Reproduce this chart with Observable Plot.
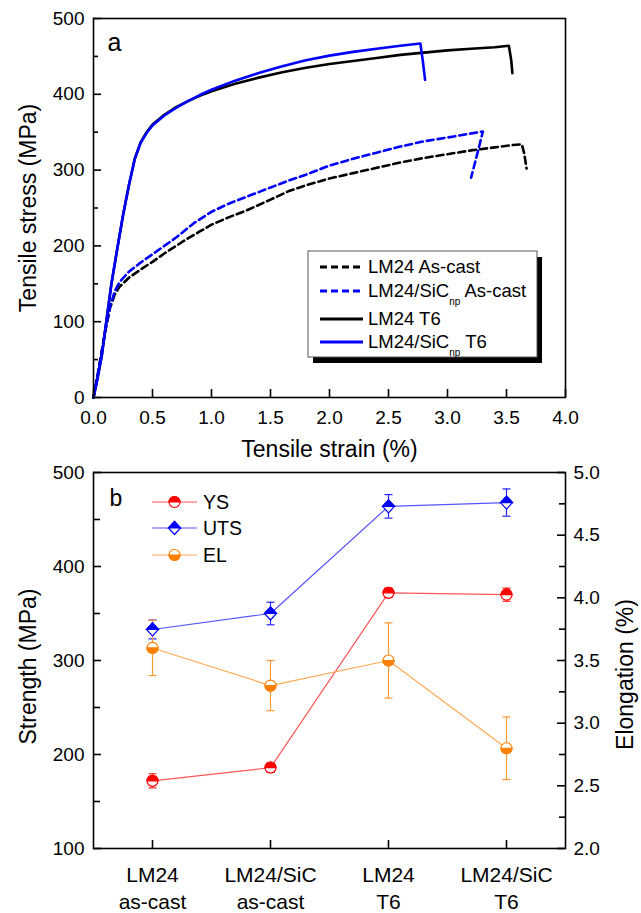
<!DOCTYPE html>
<html><head><meta charset="utf-8">
<script src="https://cdn.jsdelivr.net/npm/d3@7"></script>
<script src="https://cdn.jsdelivr.net/npm/@observablehq/plot@0.6"></script>
<style>
body{margin:0;background:#fff;}
#wrap{position:relative;width:641px;height:913px;}
#wrap svg{position:absolute;left:0;overflow:visible;}
</style></head><body><div id="wrap"></div>
<script>
// ---------- Panel a data: [strain %, stress MPa] ----------
const lm24AsCast = [[0,0],[0.03,25],[0.06,52],[0.1,88],[0.14,118],[0.18,136],[0.22,146],[0.3,158],[0.4,169],[0.5,179],[0.6,190],[0.7,200],[0.8,210],[0.9,219],[1.0,228],[1.15,238],[1.3,247],[1.5,261],[1.65,272],[1.8,280],[2.0,289],[2.2,296],[2.4,303],[2.6,310],[2.8,316],[3.0,321],[3.2,326],[3.4,330],[3.55,333],[3.63,334],[3.65,322],[3.67,302]];
const sicAsCast = [[0,0],[0.03,25],[0.06,52],[0.1,88],[0.14,120],[0.18,140],[0.22,152],[0.3,166],[0.4,178],[0.5,189],[0.6,200],[0.7,211],[0.85,230],[1.0,245],[1.15,256],[1.3,265],[1.5,277],[1.65,286],[1.8,294],[2.0,306],[2.2,315],[2.4,323],[2.6,331],[2.8,338],[3.0,343],[3.15,347],[3.3,351],[3.25,320],[3.2,290]];
const lm24T6 = [[0,0],[0.03,22],[0.07,55],[0.1,90],[0.15,148],[0.2,195],[0.25,240],[0.3,280],[0.35,315],[0.4,337],[0.45,350],[0.5,360],[0.6,373],[0.7,383],[0.8,391],[0.9,398],[1.0,404],[1.2,414],[1.4,422],[1.6,429],[1.8,435],[2.0,440],[2.2,444],[2.4,448],[2.6,452],[2.8,455],[3.0,458],[3.2,460],[3.4,462],[3.52,464],[3.54,445],[3.55,428]];
const sicT6 = [[0,0],[0.03,22],[0.07,55],[0.1,90],[0.15,148],[0.2,195],[0.25,240],[0.3,280],[0.35,315],[0.4,336],[0.45,349],[0.5,359],[0.6,372],[0.7,382],[0.8,391],[0.9,399],[1.0,406],[1.2,418],[1.4,428],[1.6,437],[1.8,445],[2.0,451],[2.2,456],[2.4,460],[2.6,464],[2.77,467],[2.79,445],[2.81,419]];
const xTicksA = [0,0.5,1,1.5,2,2.5,3,3.5,4];
const yTicksA = [0,100,200,300,400,500];
const yMinorA = [50,150,250,350,450];

// ---------- Panel b data ----------
const cats = ["LM24 as-cast","LM24/SiC as-cast","LM24 T6","LM24/SiC T6"];
const catLabels = ["LM24\nas-cast","LM24/SiC\nas-cast","LM24\nT6","LM24/SiC\nT6"];
const ysMean = [172,186,372,370];
const ysErr = [7.5,5,5,7];
const utsMean = [333,350,464,468];
const utsErr = [10,12,12.5,14.5];
const elMean = [3.6,3.3,3.5,2.8];
const elErr = [0.22,0.2,0.3,0.25];
const yTicksB = [100,200,300,400,500];
const yMinorB = [150,250,350,450];
const elTicks = [2.0,2.5,3.0,3.5,4.0,4.5,5.0];
const elMinor = [2.25,2.75,3.25,3.75,4.25,4.75];

const FONT = '"Liberation Sans", Arial, Helvetica, sans-serif';
const wrap = document.getElementById("wrap");

// ================= Panel a =================
const HA = 462, MTA = 18, MBA = 65, MLA = 93, MRA = 76;
const hA = HA - MTA - MBA, wA = 641 - MLA - MRA;
const toRows = (arr) => arr.map(([strain, stress]) => ({strain, stress}));
const seriesA = [
  {name:"LM24 As-cast", data: lm24AsCast, color:"#000", dash:"7,4", sub:null, rest:null},
  {name:"LM24/SiC", data: sicAsCast, color:"#0000ff", dash:"7,4", sub:"np", rest:" As-cast"},
  {name:"LM24 T6", data: lm24T6, color:"#000", dash:null, sub:null, rest:null},
  {name:"LM24/SiC", data: sicT6, color:"#0000ff", dash:null, sub:"np", rest:" T6"}
];
const pa = Plot.plot({
  width: 641, height: HA,
  marginLeft: MLA, marginRight: MRA, marginTop: MTA, marginBottom: MBA,
  style: {fontFamily: FONT, fontSize: "19px", color: "#000", background: "transparent"},
  x: {domain: [0, 4]},
  y: {domain: [0, 500]},
  marks: [
    ...seriesA.map(s => Plot.line(toRows(s.data), {x: "strain", y: "stress", stroke: s.color, strokeWidth: 2.6, strokeDasharray: s.dash, strokeLinejoin: "round"})),
    Plot.frame({stroke: "#000", strokeWidth: 1.6}),
    Plot.tickX(xTicksA, {x: d => d, insetTop: hA - 8, strokeWidth: 1.6}),
    Plot.tickY(yTicksA, {y: d => d, insetRight: wA - 8, strokeWidth: 1.6}),
    Plot.tickY(yMinorA, {y: d => d, insetRight: wA - 5, strokeWidth: 1.6}),
    Plot.axisX({ticks: xTicksA, tickSize: 0, tickPadding: 13, tickFormat: d => d.toFixed(1), label: null, fontSize: 19}),
    Plot.axisY({ticks: yTicksA, tickSize: 0, tickPadding: 9, label: null, fontSize: 19}),
    Plot.text(["Tensile strain (%)"], {frameAnchor: "bottom", lineAnchor: "middle", dy: 52, fontSize: 23}),
    Plot.text(["Tensile stress (MPa)"], {frameAnchor: "left", lineAnchor: "middle", textAnchor: "middle", rotate: -90, dx: -65, fontSize: 23}),
    Plot.text(["a"], {frameAnchor: "top-left", textAnchor: "start", lineAnchor: "top", dx: 14, dy: 15, fontSize: 25})
  ]
});
pa.style.top = "0px";
wrap.appendChild(pa);

// legend a
{
  const g = d3.select(pa).append("g").attr("font-family", FONT).attr("text-anchor", "start");
  g.append("rect").attr("x", 313).attr("y", 257).attr("width", 229).attr("height", 106).attr("fill", "#000");
  g.append("rect").attr("x", 308).attr("y", 251).attr("width", 229).attr("height", 106).attr("fill", "#fff").attr("stroke", "#555").attr("stroke-width", 1);
  const rowsY = [267, 291, 319, 342];
  seriesA.forEach((s, i) => {
    const y = rowsY[i];
    g.append("line").attr("x1", 320).attr("x2", 363).attr("y1", y).attr("y2", y)
      .attr("stroke", s.color).attr("stroke-width", 2.8).attr("stroke-dasharray", s.dash);
    const t = g.append("text").attr("x", 368).attr("y", y).attr("dy", "0.35em").attr("font-size", 18.5).attr("fill", "#000").attr("text-anchor", "start");
    t.append("tspan").text(s.name);
    if (s.sub) {
      t.append("tspan").attr("dy", 8).attr("font-size", 10).text(s.sub);
      t.append("tspan").attr("dy", -8).attr("font-size", 18.5).text(s.rest);
    }
  });
}

// ================= Panel b =================
const HB = 451, MTB = 10, MBB = 65, MLB = 93, MRB = 76;
const hB = HB - MTB - MBB, wB = 641 - MLB - MRB;
const elToY = e => 100 + (e - 2) * 400 / 3;
const yToEl = v => 2 + (v - 100) * 3 / 400;

const R = 5.5, D = 6.5;
const circleFull = {draw(c){ c.moveTo(R,0); c.arc(0,0,R,0,2*Math.PI); c.closePath(); }};
const circleTop = {draw(c){ c.moveTo(-R,0); c.arc(0,0,R,Math.PI,0); c.closePath(); }};
const circleBottom = {draw(c){ c.moveTo(R,0); c.arc(0,0,R,0,Math.PI); c.closePath(); }};
const diamondFull = {draw(c){ c.moveTo(-D+0.5,0); c.lineTo(0,-D); c.lineTo(D-0.5,0); c.lineTo(0,D); c.closePath(); }};
const diamondTop = {draw(c){ c.moveTo(-D+0.5,0); c.lineTo(0,-D); c.lineTo(D-0.5,0); c.closePath(); }};
const capSym = {draw(c){ c.moveTo(-4,0); c.lineTo(4,0); }};

const seriesB = [
  {name:"YS", mean: ysMean, err: ysErr, toY: v => v, color:"#ff0000", line:"#ff5555", errc:"#ff2222", full: circleFull, half: circleTop},
  {name:"UTS", mean: utsMean, err: utsErr, toY: v => v, color:"#0000ff", line:"#5555ff", errc:"#2222ff", full: diamondFull, half: diamondTop},
  {name:"EL", mean: elMean, err: elErr, toY: elToY, color:"#ff8000", line:"#ffaa55", errc:"#ff9933", full: circleFull, half: circleBottom}
];
const rowsB = s => cats.map((c, i) => ({cat: c, y: s.toY(s.mean[i]), lo: s.toY(s.mean[i] - s.err[i]), hi: s.toY(s.mean[i] + s.err[i])}));

const errMarks = seriesB.flatMap(s => {
  const d = rowsB(s);
  return [
    Plot.ruleX(d, {x: "cat", y1: "lo", y2: "hi", stroke: s.errc, strokeWidth: 1.2}),
    Plot.dot(d, {x: "cat", y: "lo", symbol: capSym, r: 4, stroke: s.errc, fill: "none", strokeWidth: 1.2}),
    Plot.dot(d, {x: "cat", y: "hi", symbol: capSym, r: 4, stroke: s.errc, fill: "none", strokeWidth: 1.2})
  ];
});
const lineMarks = seriesB.map(s => Plot.line(rowsB(s), {x: "cat", y: "y", stroke: s.line, strokeWidth: 1.2}));
const dotMarks = seriesB.flatMap(s => {
  const d = rowsB(s);
  return [
    Plot.dot(d, {x: "cat", y: "y", symbol: s.full, r: R, fill: "#fff", stroke: s.color, strokeWidth: 1.2}),
    Plot.dot(d, {x: "cat", y: "y", symbol: s.half, r: R, fill: s.color, stroke: s.color, strokeWidth: 1.2})
  ];
});

const pb = Plot.plot({
  width: 641, height: HB,
  marginLeft: MLB, marginRight: MRB, marginTop: MTB, marginBottom: MBB,
  style: {fontFamily: FONT, fontSize: "19px", color: "#000", background: "transparent"},
  x: {type: "point", domain: cats, padding: 0.5},
  y: {domain: [100, 500]},
  marks: [
    Plot.frame({stroke: "#000", strokeWidth: 1.6}),
    Plot.tickX(cats, {x: d => d, insetTop: hB - 8, strokeWidth: 1.6}),
    Plot.tickY(yTicksB, {y: d => d, insetRight: wB - 8, strokeWidth: 1.6}),
    Plot.tickY(yMinorB, {y: d => d, insetRight: wB - 7, strokeWidth: 1.6}),
    Plot.tickY(elTicks.map(elToY), {y: d => d, insetLeft: wB - 8, strokeWidth: 1.6}),
    Plot.tickY(elMinor.map(elToY), {y: d => d, insetLeft: wB - 6, strokeWidth: 1.6}),
    Plot.axisX({tickSize: 0, tickPadding: 15, tickFormat: d => catLabels[cats.indexOf(d)], label: null, fontSize: 21, lineHeight: 1.27}),
    Plot.axisY({ticks: yTicksB, tickSize: 0, tickPadding: 9, label: null, fontSize: 19}),
    Plot.axisY({anchor: "right", ticks: elTicks.map(elToY), tickSize: 0, tickPadding: 8, tickFormat: v => yToEl(v).toFixed(1), label: null, fontSize: 19}),
    ...errMarks,
    ...lineMarks,
    ...dotMarks,
    Plot.text(["Strength (MPa)"], {frameAnchor: "left", lineAnchor: "middle", textAnchor: "middle", rotate: -90, dx: -65, dy: 6, fontSize: 23}),
    Plot.text(["Elongation (%)"], {frameAnchor: "right", lineAnchor: "middle", textAnchor: "middle", rotate: -90, dx: 60, dy: 14, fontSize: 23}),
    Plot.text(["b"], {frameAnchor: "top-left", textAnchor: "start", lineAnchor: "top", dx: 16, dy: 17, fontSize: 23})
  ]
});
pb.style.top = "462px";
wrap.appendChild(pb);

// legend b
{
  const g = d3.select(pb).append("g").attr("font-family", FONT).attr("text-anchor", "start");
  const rowsY = [40, 66, 93];
  seriesB.forEach((s, i) => {
    const y = rowsY[i];
    g.append("line").attr("x1", 152).attr("x2", 197).attr("y1", y).attr("y2", y).attr("stroke", s.line).attr("stroke-width", 1.2);
    g.append("path").attr("transform", `translate(174.5,${y})`).attr("d", d3.symbol(s.full, 100)()).attr("fill", "#fff").attr("stroke", s.color).attr("stroke-width", 1.2);
    g.append("path").attr("transform", `translate(174.5,${y})`).attr("d", d3.symbol(s.half, 100)()).attr("fill", s.color).attr("stroke", s.color).attr("stroke-width", 1.2);
    g.append("text").attr("x", 203).attr("y", y).attr("dy", "0.35em").attr("font-size", 19.5).attr("fill", "#000").attr("text-anchor", "start").text(s.name);
  });
}
</script></body></html>
